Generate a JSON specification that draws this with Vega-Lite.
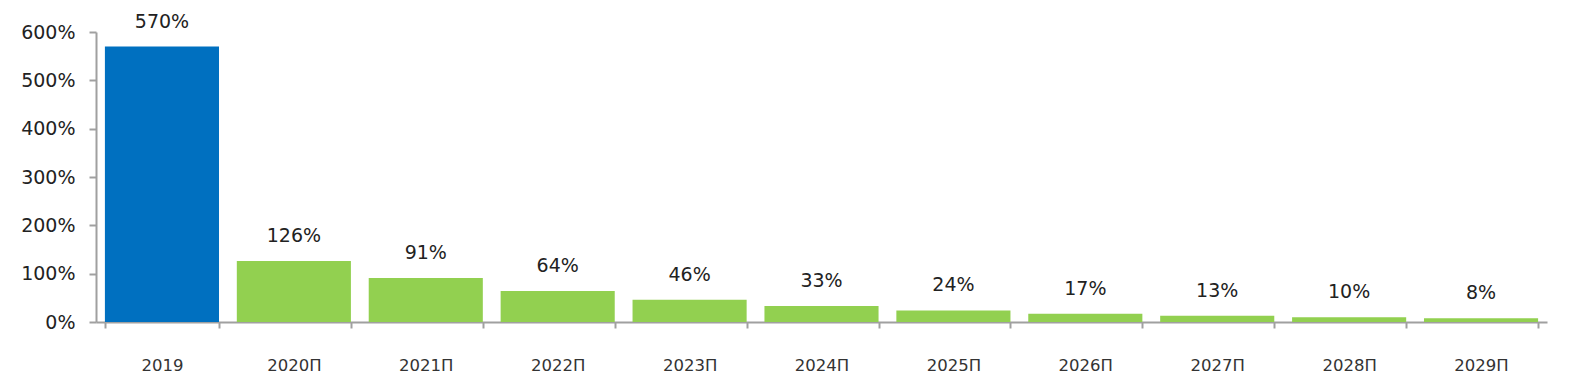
{
  "$schema": "https://vega.github.io/schema/vega-lite/v6.json",
  "width": 1451,
  "height": 290,
  "autosize": {"type": "none"},
  "padding": {"left": 96, "top": 32, "right": 27, "bottom": 67},
  "background": "white",
  "config": {"view": {"stroke": null}, "font": "DejaVu Sans"},
  "data": {"values": [
    {"year": "2019", "value": 570, "label": "570%", "kind": "fact"},
    {"year": "2020П", "value": 126, "label": "126%", "kind": "forecast"},
    {"year": "2021П", "value": 91, "label": "91%", "kind": "forecast"},
    {"year": "2022П", "value": 64, "label": "64%", "kind": "forecast"},
    {"year": "2023П", "value": 46, "label": "46%", "kind": "forecast"},
    {"year": "2024П", "value": 33, "label": "33%", "kind": "forecast"},
    {"year": "2025П", "value": 24, "label": "24%", "kind": "forecast"},
    {"year": "2026П", "value": 17, "label": "17%", "kind": "forecast"},
    {"year": "2027П", "value": 13, "label": "13%", "kind": "forecast"},
    {"year": "2028П", "value": 10, "label": "10%", "kind": "forecast"},
    {"year": "2029П", "value": 8, "label": "8%", "kind": "forecast"}
  ]},
  "encoding": {
    "x": {"field": "year", "type": "nominal", "sort": null,
      "scale": {"paddingInner": 0.135, "paddingOuter": 0.0675},
      "axis": {"title": null, "labelAngle": 0, "tickBand": "extent", "domainColor": "#a0a0a0", "domainWidth": 2, "tickColor": "#a0a0a0", "tickWidth": 2, "tickSize": 6, "labelPadding": 29, "labelFontSize": 16.5, "labelColor": "#333333", "labelFont": "DejaVu Sans"}},
    "y": {"field": "value", "type": "quantitative",
      "scale": {"domain": [0, 600]},
      "axis": {"title": null, "values": [0,100,200,300,400,500,600], "labelExpr": "datum.value + '%'", "grid": false, "domainColor": "#a0a0a0", "domainWidth": 2, "tickColor": "#a0a0a0", "tickWidth": 2, "tickSize": 7, "labelPadding": 14, "labelFontSize": 19, "labelColor": "#222222", "labelFont": "DejaVu Sans"}}
  },
  "layer": [
    {"mark": {"type": "bar"},
      "encoding": {"color": {"field": "kind", "type": "nominal", "scale": {"domain": ["fact", "forecast"], "range": ["#0070c0", "#92d050"]}, "legend": null}}},
    {"mark": {"type": "text", "baseline": "bottom", "dy": -15, "fontSize": 19, "color": "#222222", "font": "DejaVu Sans"},
      "encoding": {"text": {"field": "label", "type": "nominal"}}}
  ]
}
